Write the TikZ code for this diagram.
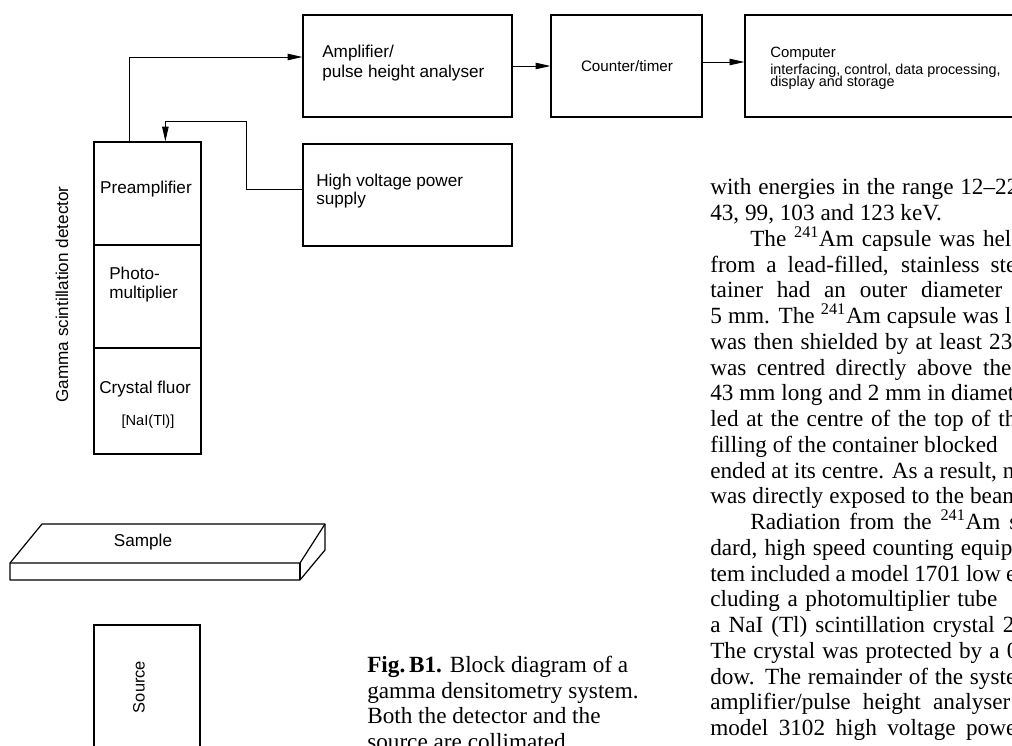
\documentclass[tikz,border=0pt]{standalone}
\usepackage{fontspec}
\setmainfont{Liberation Serif}
\setsansfont{Liberation Sans}
\usetikzlibrary{arrows.meta}
\begin{document}
\begin{tikzpicture}[x=0.025cm,y=-0.025cm,
  blk/.style={draw,line width=.9pt,inner sep=0pt},
  sig/.style={line width=.6pt,-{Triangle[length=10.5pt,width=4.6pt]}},
  slab/.style={line width=.85pt,line join=round},
  sf/.style={font=\sffamily\fontsize{12.2}{14}\selectfont,inner sep=0pt},
  sfs/.style={font=\sffamily\fontsize{10.2}{12}\selectfont,inner sep=0pt,anchor=base west},
  rm/.style={font=\fontsize{16.5}{18}\selectfont,inner sep=0pt,anchor=base west}]
\useasboundingbox (0,0) rectangle (1012,745);
\clip (0,0) rectangle (1012,745);
%% blocks
\node[blk,minimum width=5.225cm,minimum height=2.55cm] (amp) at (407.5,66) {};
\node[blk,minimum width=3.775cm,minimum height=2.55cm] (cnt) at (626.5,66) {};
\node[blk,minimum width=7.125cm,minimum height=2.55cm] (comp) at (887.5,66) {};
\node[blk,minimum width=5.225cm,minimum height=2.55cm] (hv) at (407.5,195) {};
\node[blk,minimum width=2.675cm,minimum height=2.575cm] (pre) at (147.5,193.5) {};
\node[blk,minimum width=2.675cm,minimum height=2.575cm] (pm) at (147.5,296.5) {};
\node[blk,minimum width=2.675cm,minimum height=2.65cm] (xtal) at (147.5,401) {};
\node[blk,minimum width=2.65cm,minimum height=3.625cm] (src) at (147,697.5) {};
%% block texts
\node[sf,anchor=base west] (amp1) at (322,57) {Amplifier/};
\node[sf,anchor=base west] (amp2) at (322,77) {pulse height analyser};
\node[sf,anchor=base,font=\sffamily\fontsize{10.8}{12}\selectfont] (cntt) at (627,71.7) {Counter/timer};
\node[sfs,font=\sffamily\fontsize{10.6}{12}\selectfont] (cmp1) at (770,57) {Computer};
\node[sfs] (cmp2) at (770,74) {interfacing, control, data processing,};
\node[sfs] (cmp3) at (770,86.5) {display and storage};
\node[sf,anchor=base west] (hv1) at (316,186) {High voltage power};
\node[sf,anchor=base west] (hv2) at (316,204) {supply};
\node[sf,anchor=base] (pret) at (146,193) {Preamplifier};
\node[sf,anchor=base west] (pm1) at (109,279) {Photo-};
\node[sf,anchor=base west] (pm2) at (109,298) {multiplier};
\node[sf,anchor=base west] (xt1) at (99,393) {Crystal fluor};
\node[sf,anchor=base,font=\sffamily\fontsize{10.4}{12}\selectfont] (xt2) at (148,425) {[NaI(Tl)]};
\node[sf,rotate=90] (gsd) at (62,294.5) {Gamma scintillation detector};
\node[sf,rotate=90,font=\sffamily\fontsize{11.7}{13}\selectfont] (srct) at (139,687) {Source};
%% sample slab
\draw[slab] (42,524) -- (325,524) -- (325,550) -- (300,580) -- (10,580) -- (10,563) -- cycle;
\draw[slab] (10,563) -- (300,563) -- (325,524);
\draw[slab] (300,563) -- (300,580);
\node[sf,anchor=base] (smp) at (143,546.7) {Sample};
%% connectors
\draw[sig] (amp.east) -- (cnt.west);
\draw[sig] ([yshift=.1cm]cnt.east) -- ([yshift=.1cm]comp.west);
\draw[sig] ([xshift=.9cm]pre.north west) |- ([yshift=.225cm]amp.west);
\coordinate (hvbend) at (246,121);
\draw[sig] ([yshift=.1425cm]hv.west) -| (hvbend) -| ([xshift=1.8cm]pre.north west);
%% caption
\node[rm] (c1) at (367,672.5) {\textbf{Fig.\,B1.} Block diagram of a};
\node[rm] (c2) at (367,698) {gamma densitometry system.};
\node[rm] (c3) at (367,723.5) {Both the detector and the};
\node[rm] (c4) at (367,749) {source are collimated.};
%% page text
\node[rm] (b1) at (710,194.7) {\makebox[7.7cm][s]{with energies in the range 12--22}};
\node[rm] (b2) at (710,220.5) {43, 99, 103 and 123 keV.};
\node[rm] (b3) at (750,246.2) {\makebox[6.525cm][s]{The \textsuperscript{241}Am capsule was hel}};
\node[rm] (b4) at (710,272.0) {\makebox[7.65cm][s]{from a lead-filled, stainless ste}};
\node[rm] (b5) at (710,297.7) {\makebox[7.3cm][s]{tainer had an outer diameter}};
\node[rm] (b6) at (710,323.5) {\makebox[7.525cm][s]{5 mm. The \textsuperscript{241}Am capsule was l}};
\node[rm] (b7) at (710,349.3) {\makebox[7.55cm][s]{was then shielded by at least 23}};
\node[rm] (b8) at (710,375.0) {\makebox[7.525cm][s]{was centred directly above the}};
\node[rm] (b9) at (710,400.8) {\makebox[7.6cm][s]{43 mm long and 2 mm in diamet}};
\node[rm] (b10) at (710,426.5) {\makebox[7.65cm][s]{led at the centre of the top of th}};
\node[rm] (b11) at (710,452.3) {filling of the container blocked};
\node[rm] (b12) at (710,478.1) {ended at its centre. As a result, n};
\node[rm] (b13) at (710,503.8) {\makebox[7.75cm][s]{was directly exposed to the beam}};
\node[rm] (b14) at (750,529.6) {\makebox[6.7cm][s]{Radiation from the \textsuperscript{241}Am s}};
\node[rm] (b15) at (710,555.3) {\makebox[7.55cm][s]{dard, high speed counting equip}};
\node[rm] (b16) at (710,581.1) {\makebox[7.65cm][s]{tem included a model 1701 low e}};
\node[rm] (b17) at (710,606.9) {\makebox[7.175cm][s]{cluding a photomultiplier tube}};
\node[rm] (b18) at (710,632.6) {\makebox[7.6cm][s]{a NaI (Tl) scintillation crystal 2}};
\node[rm] (b19) at (710,658.4) {\makebox[7.7cm][s]{The crystal was protected by a 0}};
\node[rm] (b20) at (710,684.1) {\makebox[7.65cm][s]{dow. The remainder of the syste}};
\node[rm] (b21) at (710,709.9) {\makebox[7.5cm][s]{amplifier/pulse height analyser}};
\node[rm] (b22) at (710,735.7) {\makebox[7.65cm][s]{model 3102 high voltage powe}};
\end{tikzpicture}
\end{document}
